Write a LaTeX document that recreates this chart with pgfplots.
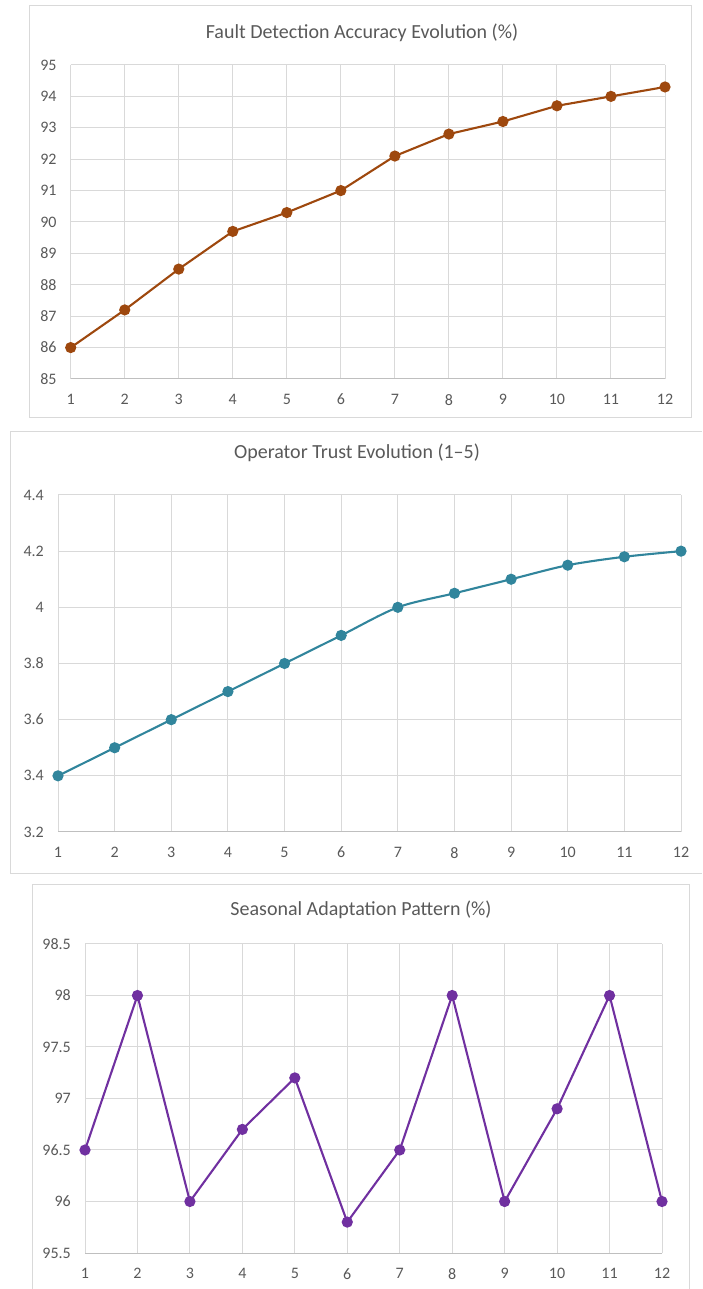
\documentclass[border=0pt]{standalone}
\usepackage{pgfplots}
\pgfplotsset{compat=1.18}
\usepackage{fontspec}
\setmainfont{Carlito}
\definecolor{txt}{HTML}{595959}
\definecolor{grd}{HTML}{D9D9D9}
\definecolor{axl}{HTML}{BFBFBF}
\definecolor{frm}{HTML}{D9D9D9}
\definecolor{c1}{HTML}{9E480E}
\definecolor{c2}{HTML}{31859C}
\definecolor{c3}{HTML}{7030A0}
\pgfplotsset{panel/.style={
  scale only axis, anchor=south west,
  xmin=1, xmax=12, xtick={1,...,12},
  grid=major, major grid style={grd, line width=1pt},
  axis x line*=bottom, axis y line*=left,
  x axis line style={axl, line width=1pt, -},
  y axis line style={draw=none},
  major tick length=0pt, tick style={draw=none},
  /pgf/number format/assume math mode=true,
  tick label style={font=\fontsize{16}{19}\selectfont, text=txt, inner sep=0pt},
  xticklabel style={anchor=north, yshift=-15pt},
  yticklabel style={anchor=east, xshift=-14pt},
  clip=false,
}}
\begin{document}
\begin{tikzpicture}
\useasboundingbox (0pt,0pt) rectangle (702pt,1289pt);
% frames
\draw[frm, line width=1pt] (29.3pt,871pt) rectangle (691pt,1283pt);
\draw[frm, line width=1pt] (702pt,857pt) -- (10pt,857pt) -- (10pt,415pt) -- (702pt,415pt);
\draw[frm, line width=1pt] (32pt,-2pt) -- (32pt,404pt) -- (689pt,404pt) -- (689pt,-2pt);
% titles
\node[text=txt, font=\fontsize{20}{24}\selectfont] at (362pt,1256pt) {Fault Detection Accuracy Evolution (\%)};
\node[text=txt, font=\fontsize{20}{24}\selectfont] at (357pt,836pt) {Operator Trust Evolution (1–5)};
\node[text=txt, font=\fontsize{20}{24}\selectfont] at (361pt,379pt) {Seasonal Adaptation Pattern (\%)};

\begin{axis}[panel, at={(70.7pt,910pt)}, width=594.3pt, height=314pt,
  ymin=85, ymax=95, ytick={85,86,...,95}]
\addplot[c1, line width=2.1pt, mark=*, mark size=4.5pt, mark options={fill=c1, draw=c1}]
 coordinates {(1,86)(2,87.2)(3,88.5)(4,89.7)(5,90.3)(6,91)(7,92.1)(8,92.8)(9,93.2)(10,93.7)(11,94)(12,94.3)};
\end{axis}

\begin{axis}[panel, at={(58pt,457pt)}, width=623pt, height=337pt,
  ymin=3.2, ymax=4.4, ytick={3.2,3.4,3.6,3.8,4,4.2,4.4}]
\addplot[c2, line width=2.1pt, smooth, mark=*, mark size=4.5pt, mark options={fill=c2, draw=c2}]
 coordinates {(1,3.4)(2,3.5)(3,3.6)(4,3.7)(5,3.8)(6,3.9)(7,4.0)(8,4.05)(9,4.1)(10,4.15)(11,4.18)(12,4.2)};
\end{axis}

\begin{axis}[panel, at={(85pt,36pt)}, width=577pt, height=309pt,
  ymin=95.5, ymax=98.5, ytick={95.5,96,96.5,97,97.5,98,98.5}]
\addplot[c3, line width=2.1pt, mark=*, mark size=4.5pt, mark options={fill=c3, draw=c3}]
 coordinates {(1,96.5)(2,98)(3,96)(4,96.7)(5,97.2)(6,95.8)(7,96.5)(8,98)(9,96)(10,96.9)(11,98)(12,96)};
\end{axis}
\end{tikzpicture}
\end{document}
